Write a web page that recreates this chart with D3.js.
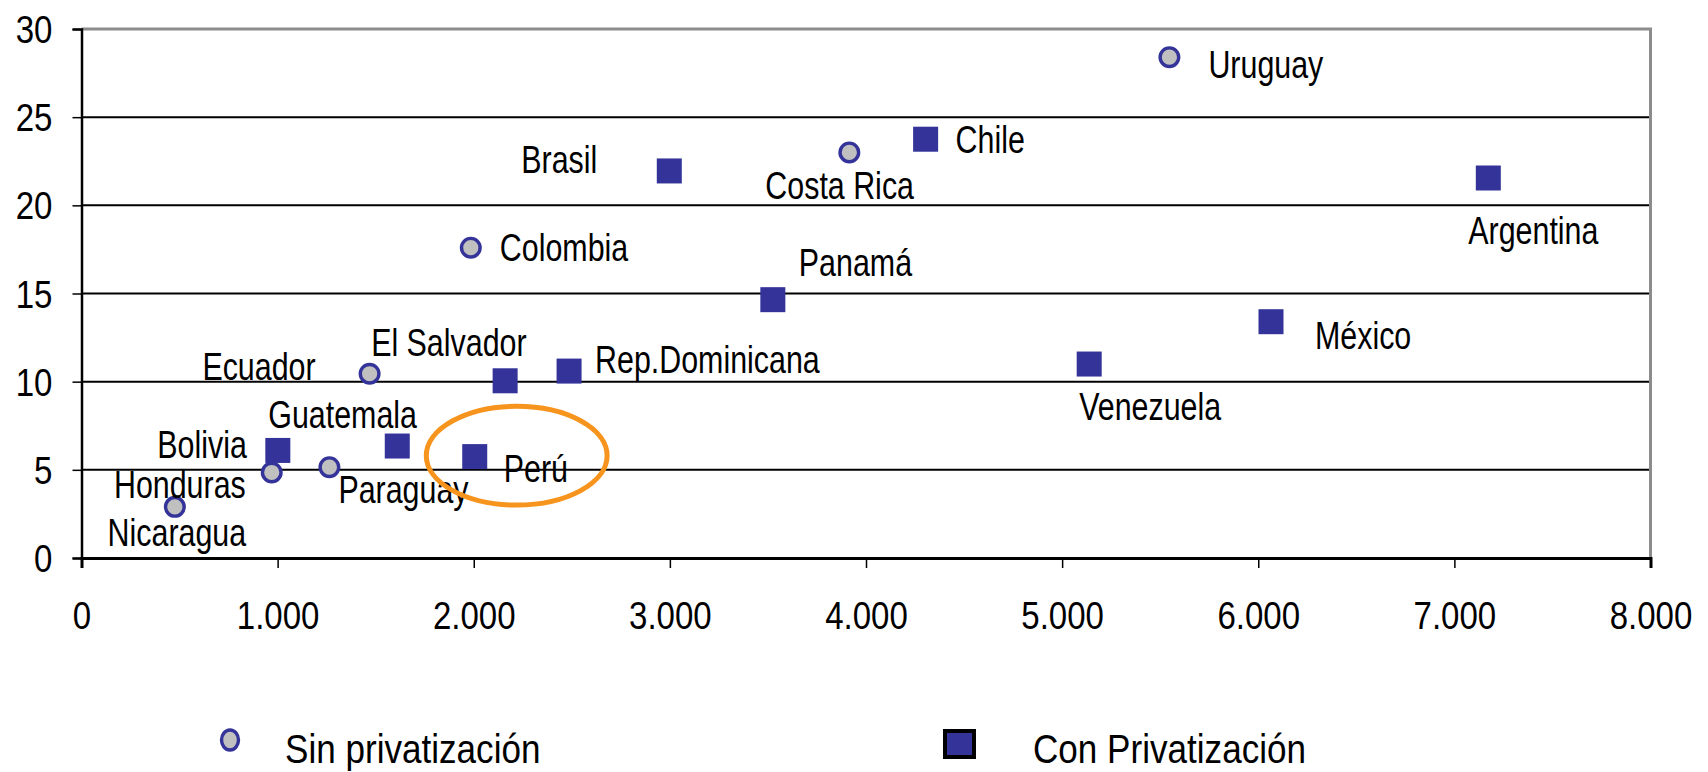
<!DOCTYPE html>
<html>
<head>
<meta charset="utf-8">
<script src="https://cdn.jsdelivr.net/npm/d3@7"></script>
<style>
  html, body { margin: 0; padding: 0; background: #fff; }
  svg { display: block; font-family: "Liberation Sans", Arial, sans-serif; }
</style>
</head>
<body>
<svg width="1708" height="772"></svg>
<script>
// Sin privatización (circles)
const sinNames = ["Uruguay", "Costa Rica", "Colombia", "Ecuador", "Paraguay", "Honduras", "Nicaragua"];
const sinX = [5547, 3915, 1985, 1469, 1264, 970, 476];
const sinY = [28.4, 23.0, 17.6, 10.45, 5.15, 4.85, 2.9];

// Con Privatización (squares)
const conNames = ["Argentina", "Chile", "Brasil", "México", "Panamá", "Venezuela", "Rep.Dominicana", "El Salvador", "Guatemala", "Bolivia", "Perú"];
const conX = [7173, 4304, 2997, 6065, 3525, 5138, 2486, 2160, 1610, 1001, 2005];
const conY = [21.55, 23.75, 21.95, 13.4, 14.65, 11.0, 10.6, 10.05, 6.35, 6.1, 5.75];

const xTicks = [0, 1000, 2000, 3000, 4000, 5000, 6000, 7000, 8000];
const yTicks = [0, 5, 10, 15, 20, 25, 30];
const legendLabels = ["Sin privatización", "Con Privatización"];

// highlight around Perú, in data units: [cx, cy, rx, ry]
const highlight = [2219, 5.8, 461, 2.8];

// label placement (px offsets from the point)
const labelPos = {
  "Uruguay": [39, 21, "start"],
  "Costa Rica": [-84, 47, "start"],
  "Colombia": [29, 13, "start"],
  "Ecuador": [-54, 6, "end"],
  "Paraguay": [9, 36, "start"],
  "Honduras": [-26, 26, "end"],
  "Nicaragua": [2, 39, "middle"],
  "Argentina": [-20, 66, "start"],
  "Chile": [30, 14, "start"],
  "Brasil": [-72, 2, "end"],
  "México": [44, 27, "start"],
  "Panamá": [26, -24, "start"],
  "Venezuela": [-10, 56, "start"],
  "Rep.Dominicana": [26, 2, "start"],
  "El Salvador": [-134, -25, "start"],
  "Guatemala": [-129, -18, "start"],
  "Bolivia": [-31, 8, "end"],
  "Perú": [29, 25, "start"]
};

const navy = "#333399";
const plotL = 81.5, plotR = 1650.5, plotT = 29, plotB = 558;

const svg = d3.select("svg");
const x = d3.scaleLinear().domain([0, 8000]).range([plotL, plotR]);
const y = d3.scaleLinear().domain([0, 30]).range([plotB, plotT]);

// gridlines
svg.append("g")
  .selectAll("line")
  .data(yTicks.filter(t => t > 0 && t < 30))
  .join("line")
  .attr("x1", plotL).attr("x2", plotR)
  .attr("y1", d => y(d)).attr("y2", d => y(d))
  .attr("stroke", "#000").attr("stroke-width", 2);

// plot frame (top & right, grey)
svg.append("path")
  .attr("d", `M${plotL},${plotT}H${plotR}V${plotB}`)
  .attr("fill", "none").attr("stroke", "#8c8c8c").attr("stroke-width", 3);

// axes
const fmt = d => d === 0 ? "0" : d3.format(",")(d).replace(/,/g, ".");

const xAxis = svg.append("g")
  .attr("transform", `translate(0,${plotB})`)
  .call(d3.axisBottom(x).tickValues(xTicks).tickSize(10).tickFormat(fmt));
xAxis.select(".domain").attr("stroke", "#000").attr("stroke-width", 3);
xAxis.selectAll(".tick line").attr("stroke", "#000").attr("stroke-width", 1.5);
xAxis.selectAll(".tick text").remove();
xAxis.selectAll(".tick").append("text")
  .attr("transform", "translate(0,71) scale(0.87,1.03)")
  .attr("text-anchor", "middle")
  .attr("fill", "#000")
  .style("font-size", "38px")
  .text(d => fmt(d));

const yAxis = svg.append("g")
  .attr("transform", `translate(${plotL},0)`)
  .call(d3.axisLeft(y).tickValues(yTicks).tickSize(9));
yAxis.select(".domain").attr("stroke", "#000").attr("stroke-width", 2.5);
yAxis.selectAll(".tick line").attr("stroke", "#000").attr("stroke-width", 1.5);
yAxis.selectAll(".tick text").remove();
yAxis.selectAll(".tick").append("text")
  .attr("transform", "translate(-29,13.5) scale(0.87,1.03)")
  .attr("text-anchor", "end")
  .attr("fill", "#000")
  .style("font-size", "38px")
  .text(d => d);

// points
const sinData = sinNames.map((n, i) => ({ name: n, x: sinX[i], y: sinY[i] }));
const conData = conNames.map((n, i) => ({ name: n, x: conX[i], y: conY[i] }));

svg.append("g")
  .selectAll("circle")
  .data(sinData)
  .join("circle")
  .attr("cx", d => x(d.x)).attr("cy", d => y(d.y))
  .attr("r", 9.3)
  .attr("fill", "#c0c0c0").attr("stroke", navy).attr("stroke-width", 3.4);

const sq = 25;
svg.append("g")
  .selectAll("rect")
  .data(conData)
  .join("rect")
  .attr("x", d => x(d.x) - sq / 2).attr("y", d => y(d.y) - sq / 2)
  .attr("width", sq).attr("height", sq)
  .attr("fill", navy);

// labels
svg.append("g")
  .selectAll("text")
  .data(sinData.concat(conData))
  .join("text")
  .attr("transform", d => {
    const p = labelPos[d.name];
    return `translate(${x(d.x) + p[0]},${y(d.y) + p[1]}) scale(0.8,1.04)`;
  })
  .attr("text-anchor", d => labelPos[d.name][2])
  .attr("fill", "#000")
  .style("font-size", "38px")
  .text(d => d.name);

// highlight ellipse
svg.append("ellipse")
  .attr("cx", x(highlight[0])).attr("cy", y(highlight[1]))
  .attr("rx", x(highlight[2]) - x(0)).attr("ry", y(0) - y(highlight[3]))
  .attr("fill", "none").attr("stroke", "#f7941d").attr("stroke-width", 5);

// legend
const legend = svg.append("g");
legend.append("ellipse")
  .attr("cx", 230).attr("cy", 740).attr("rx", 8.5).attr("ry", 10)
  .attr("fill", "#c0c0c0").attr("stroke", navy).attr("stroke-width", 3.4);
legend.append("rect")
  .attr("x", 945).attr("y", 731).attr("width", 29).attr("height", 26)
  .attr("fill", navy).attr("stroke", "#000").attr("stroke-width", 4);
legend.selectAll("text")
  .data(legendLabels)
  .join("text")
  .attr("transform", (d, i) => `translate(${i === 0 ? 285 : 1033},763) scale(0.9,1.02)`)
  .attr("fill", "#000")
  .style("font-size", "39px")
  .text(d => d);
</script>
</body>
</html>
